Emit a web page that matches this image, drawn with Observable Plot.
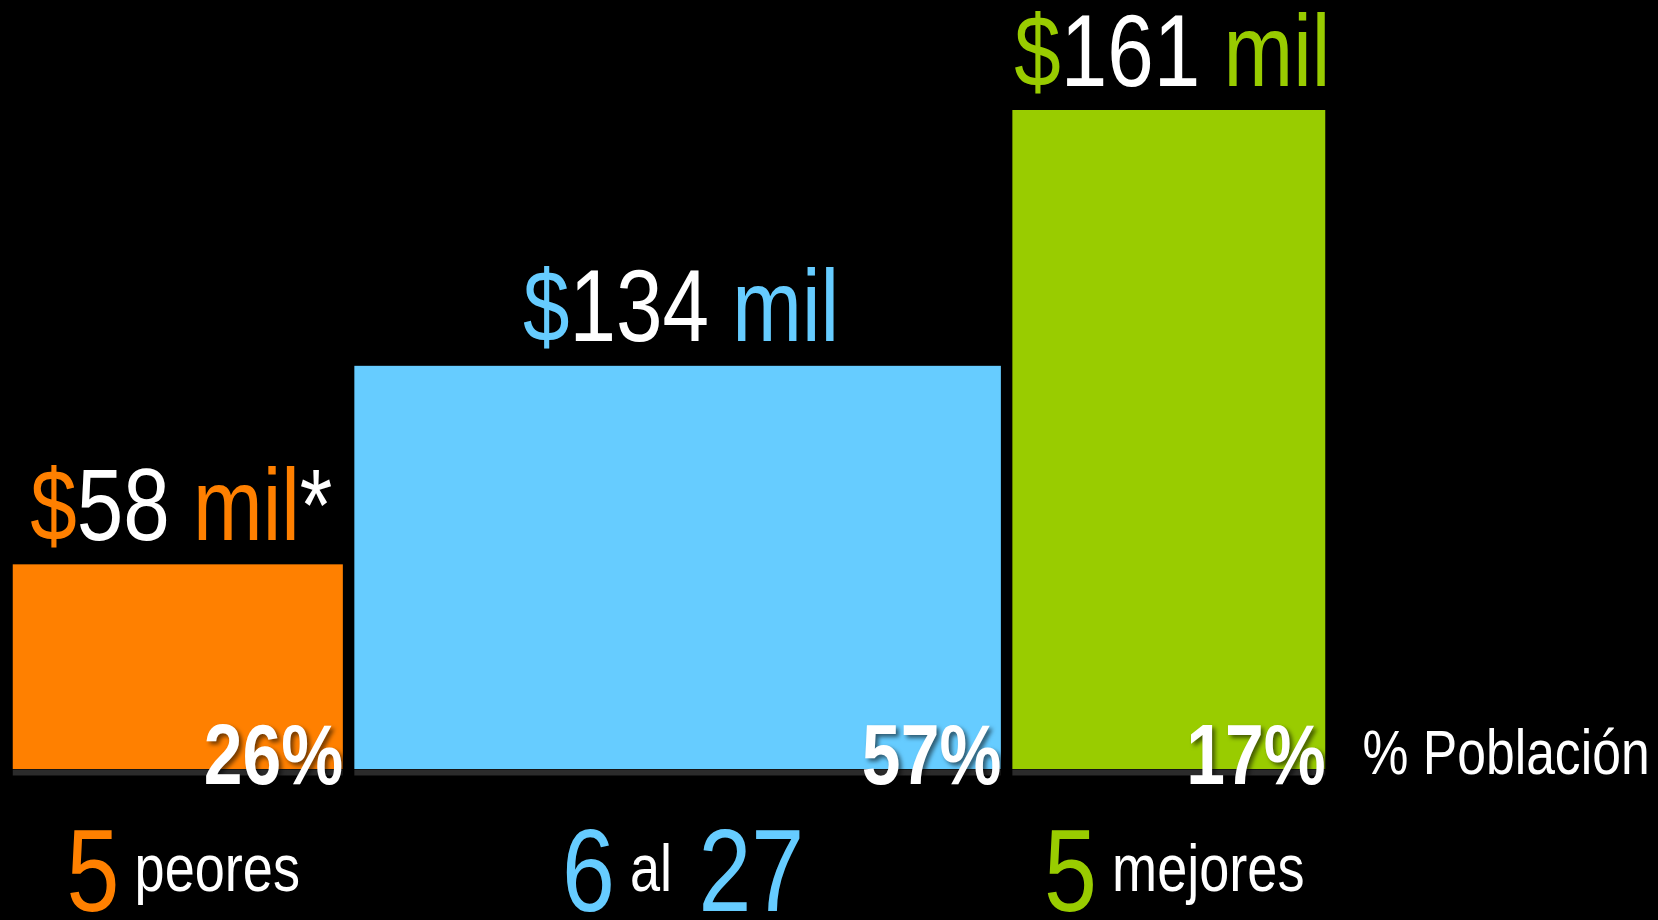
<!DOCTYPE html>
<html><head><meta charset="utf-8">
<script src="https://cdn.jsdelivr.net/npm/d3@7"></script>
<script src="https://cdn.jsdelivr.net/npm/@observablehq/plot@0.6"></script>
<style>
html,body{margin:0;padding:0;background:#000;overflow:hidden;}
#chart{width:1658px;height:920px;}
</style></head><body><div id="chart"></div>
<script>
// ---- datos ----
const grupos = ["5 peores", "6 al 27", "5 mejores"];
const ingresoMiles = [58, 134, 161];
const notaIngreso = ["*", "", ""];
const poblacionPct = [26, 57, 17];
// ancho y altura de cada barra tal como están dibujadas
const anchoBarra = [25.8, 49.7, 24.5];
const alturaBarra = [50, 98.5, 161];
const colores = ["#FF8000", "#66CCFF", "#99CC00"];
const etiquetaPoblacion = "% Población";

let acc = 0;
const datos = grupos.map((g, i) => {
  const x1 = acc; acc += anchoBarra[i];
  return {grupo: g, ingreso: ingresoMiles[i], nota: notaIngreso[i], poblacion: poblacionPct[i],
          x1, x2: acc, altura: alturaBarra[i], color: colores[i]};
});

const FONT = "'Liberation Sans', Arial, sans-serif";
const CONDENSE = 0.82;
const INSET = 5.75;
const centro = d => (d.x1 + d.x2) / 2;

const svg = Plot.plot({
  width: 1658, height: 920,
  marginLeft: 7, marginRight: 327, marginTop: 110, marginBottom: 151,
  x: {domain: [0, 100], axis: null},
  y: {domain: [0, 161], axis: null},
  color: {type: "identity"},
  style: {background: "#000", fontFamily: FONT, color: "#fff"},
  marks: [
    Plot.rect(datos, {x1: "x1", x2: "x2", y1: 0, y2: "altura", fill: "color", insetLeft: INSET, insetRight: INSET}),
    Plot.ruleY(datos, {y: 0, x1: "x1", x2: "x2", stroke: "#2b2b2b", strokeWidth: 6, dy: 3, insetLeft: INSET, insetRight: INSET}),
    Plot.text(datos, {x: centro, y: "altura", text: d => `$${d.ingreso} mil${d.nota}`, textAnchor: "middle", lineAnchor: "bottom",
      dx: 3, dy: -25, fontSize: 102, fill: "#fff", fontFamily: FONT, ariaDescription: "valor"}),
    Plot.text(datos, {x: "x2", y: 0, text: d => `${d.poblacion}%`, textAnchor: "end", lineAnchor: "bottom",
      dx: -INSET, dy: 14, fontSize: 85, fontWeight: "bold", fill: "#fff", fontFamily: FONT, ariaDescription: "pct"}),
    Plot.text(datos, {x: centro, y: 0, text: "grupo", textAnchor: "middle", lineAnchor: "bottom",
      dx: 5, dy: 141, fontSize: 116, fill: "#fff", fontFamily: FONT, ariaDescription: "grupo"}),
    Plot.text([etiquetaPoblacion], {x: 100, y: 0, text: d => d, textAnchor: "start", lineAnchor: "bottom",
      dx: 31, dy: 4, fontSize: 63, fill: "#fff", fontFamily: FONT, ariaDescription: "poblacion"})
  ]
});

const NS = "http://www.w3.org/2000/svg";
// valores: "$" y "mil" en el color del grupo, cifras en blanco
d3.select(svg).selectAll('g[aria-description="valor"] text').each(function(_, i) {
  const t = this.textContent, col = datos[i].color;
  this.textContent = "";
  for (const p of t.match(/[0-9*]+|[^0-9*]+/g)) {
    const ts = document.createElementNS(NS, "tspan");
    ts.textContent = p;
    ts.setAttribute("fill", /[0-9*]/.test(p) ? "#fff" : col);
    this.appendChild(ts);
  }
});
// grupos: números grandes en color, palabras pequeñas en blanco y elevadas
d3.select(svg).selectAll('g[aria-description="grupo"] text').each(function(_, i) {
  const toks = this.textContent.split(" "), col = datos[i].color;
  this.textContent = "";
  let off = 0;
  toks.forEach((tok, k) => {
    const ts = document.createElementNS(NS, "tspan");
    const num = /^[0-9]+$/.test(tok);
    ts.textContent = (k > 0 ? " " : "") + tok;
    const target = num ? 0 : -20;
    ts.setAttribute("dy", target - off); off = target;
    if (num) { ts.setAttribute("fill", col); }
    else { ts.setAttribute("fill", "#fff"); ts.setAttribute("font-size", 66); }
    this.appendChild(ts);
  });
});
d3.select(svg).select('g[aria-description="pct"]').style("filter", "drop-shadow(3px 3px 2px rgba(0,0,0,0.55))");
// tipografía estrecha (tipo Arial Narrow): compresión horizontal de cada texto
d3.select(svg).selectAll("text").each(function() {
  const tr = this.getAttribute("transform") || "";
  this.setAttribute("transform", `${tr} scale(${CONDENSE},1)`);
});

document.getElementById("chart").appendChild(svg);
</script>
</body></html>
